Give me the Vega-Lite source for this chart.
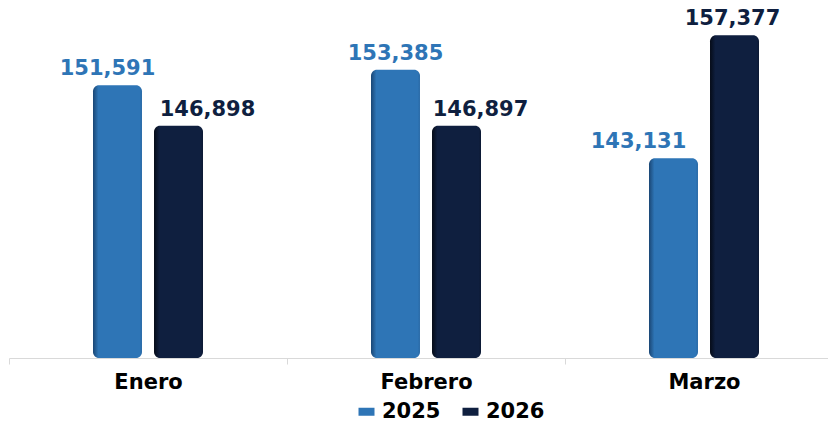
{
  "$schema": "https://vega.github.io/schema/vega-lite/v6.json",
  "autosize": {"type": "none"},
  "width": 819,
  "height": 358,
  "padding": {"left": 9, "right": 0, "top": 0, "bottom": 63},
  "background": "white",
  "config": {"view": {"stroke": null}},
  "data": {
    "values": [
      {"month": "Enero", "year": "2025", "value": 151591},
      {"month": "Enero", "year": "2026", "value": 146898},
      {"month": "Febrero", "year": "2025", "value": 153385},
      {"month": "Febrero", "year": "2026", "value": 146897},
      {"month": "Marzo", "year": "2025", "value": 143131},
      {"month": "Marzo", "year": "2026", "value": 157377}
    ]
  },
  "encoding": {
    "x": {
      "field": "month", "type": "nominal", "sort": ["Enero", "Febrero", "Marzo"],
      "scale": {"range": [0, 834], "paddingInner": 0, "paddingOuter": 0},
      "axis": {
        "title": null, "labelAngle": 0, "domainColor": "#d9d9d9", "tickColor": "#d9d9d9",
        "tickBand": "extent", "tickSize": 6, "labelFont": "DejaVu Sans", "labelFontWeight": "bold",
        "labelFontSize": 21, "labelColor": "#000000", "labelPadding": 7
      }
    },
    "xOffset": {
      "field": "year", "type": "nominal",
      "scale": {"domain": ["2025", "2026"], "range": [84, 194], "paddingInner": 0.197, "paddingOuter": 0}
    },
    "y": {
      "field": "value", "type": "quantitative",
      "scale": {"domain": [120000, 161464], "zero": false, "nice": false},
      "axis": null
    }
  },
  "layer": [
    {
      "transform": [{"filter": "datum.year === '2025'"}],
      "mark": {"type": "bar", "cornerRadius": 6,
        "fill": {"gradient": "linear", "x1": 0, "x2": 1, "y1": 0, "y2": 0,
          "stops": [{"offset": 0, "color": "#1a4674"}, {"offset": 0.11, "color": "#2E75B6"}, {"offset": 0.95, "color": "#2E75B6"}, {"offset": 1, "color": "#2a6aa6"}]}},
      "encoding": {"y2": {"datum": 120000}}
    },
    {
      "transform": [{"filter": "datum.year === '2026'"}],
      "mark": {"type": "bar", "cornerRadius": 6,
        "fill": {"gradient": "linear", "x1": 0, "x2": 1, "y1": 0, "y2": 0,
          "stops": [{"offset": 0, "color": "#050b17"}, {"offset": 0.11, "color": "#0F1F3F"}, {"offset": 0.95, "color": "#0F1F3F"}, {"offset": 1, "color": "#0c1933"}]}},
      "encoding": {"y2": {"datum": 120000}}
    },
    {
      "encoding": {
        "text": {"field": "value", "type": "quantitative", "format": ","},
        "color": {
          "field": "year", "type": "nominal",
          "scale": {"domain": ["2025", "2026"], "range": ["#2E75B6", "#0F1F3F"]},
          "legend": {
            "title": null, "orient": "none", "direction": "horizontal",
            "legendX": 347, "legendY": 401,
            "symbolType": "M-1,-0.5H1V0.5H-1Z", "symbolSize": 256, "symbolStrokeWidth": 0, "symbolOpacity": 1,
            "labelFont": "DejaVu Sans", "labelFontWeight": "bold", "labelFontSize": 21,
            "labelColor": "#000000", "labelOffset": 5, "columnPadding": 19
          }
        }
      },
      "layer": [
        {"transform": [{"filter": "datum.month === 'Enero' && datum.year === '2025'"}],
         "mark": {"type": "text", "dx": -10, "dy": -10, "baseline": "alphabetic", "font": "DejaVu Sans", "fontWeight": "bold", "fontSize": 21}},
        {"transform": [{"filter": "datum.month === 'Enero' && datum.year === '2026'"}],
         "mark": {"type": "text", "dx": 29, "dy": -10, "baseline": "alphabetic", "font": "DejaVu Sans", "fontWeight": "bold", "fontSize": 21}},
        {"transform": [{"filter": "datum.month === 'Febrero' && datum.year === '2025'"}],
         "mark": {"type": "text", "dx": 0, "dy": -10, "baseline": "alphabetic", "font": "DejaVu Sans", "fontWeight": "bold", "fontSize": 21}},
        {"transform": [{"filter": "datum.month === 'Febrero' && datum.year === '2026'"}],
         "mark": {"type": "text", "dx": 24, "dy": -10, "baseline": "alphabetic", "font": "DejaVu Sans", "fontWeight": "bold", "fontSize": 21}},
        {"transform": [{"filter": "datum.month === 'Marzo' && datum.year === '2025'"}],
         "mark": {"type": "text", "dx": -35, "dy": -10, "baseline": "alphabetic", "font": "DejaVu Sans", "fontWeight": "bold", "fontSize": 21}},
        {"transform": [{"filter": "datum.month === 'Marzo' && datum.year === '2026'"}],
         "mark": {"type": "text", "dx": -2, "dy": -10, "baseline": "alphabetic", "font": "DejaVu Sans", "fontWeight": "bold", "fontSize": 21}}
      ]
    }
  ]
}
